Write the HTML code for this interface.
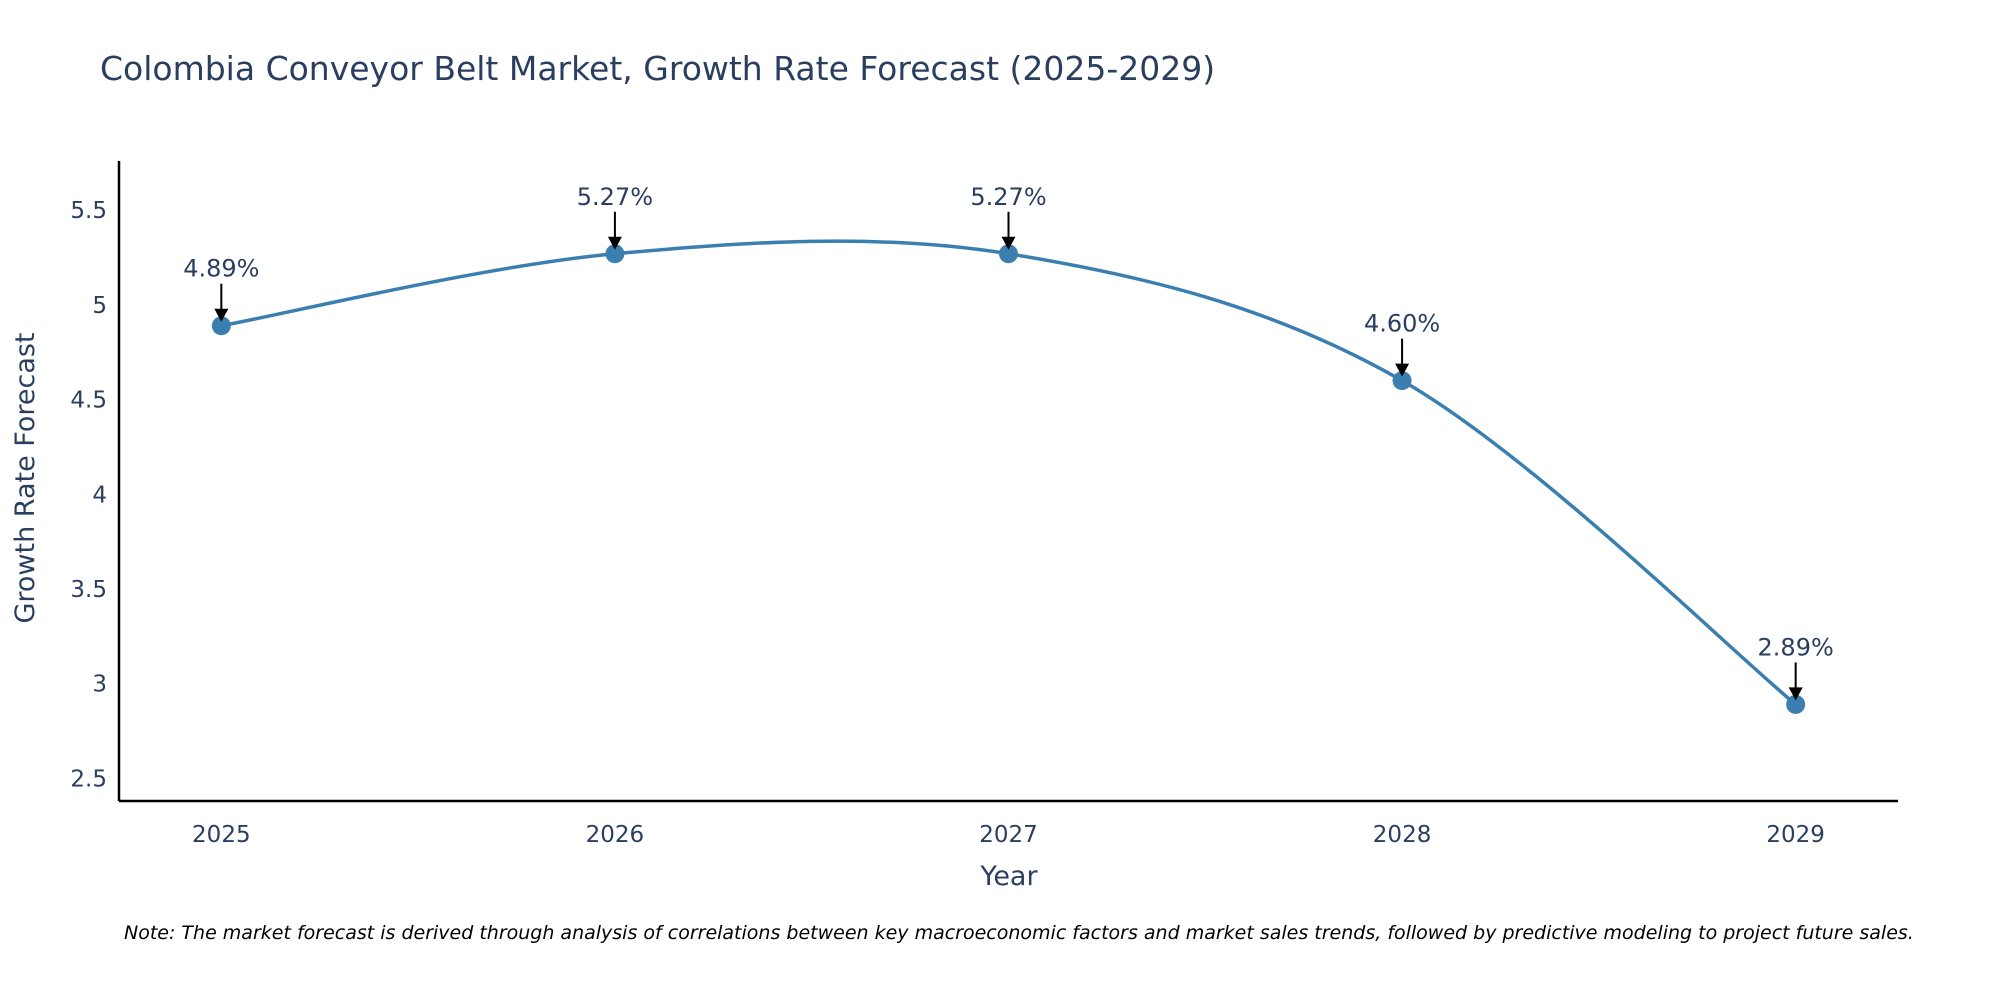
<!DOCTYPE html>
<html><head><meta charset="utf-8"><style>
body{margin:0;background:#fff;}
svg text{font-family:"DejaVu Sans","Liberation Sans",sans-serif;fill:#2a3f5f;}
</style></head><body>
<svg id="chart" width="2000" height="1000" viewBox="0 0 2000 1000">
<rect width="2000" height="1000" fill="#fff"/>
<text x="100" y="80" font-size="33">Colombia Conveyor Belt Market, Growth Rate Forecast (2025-2029)</text>
<g id="axes"></g>
<g id="series"></g>
<g id="annots"></g>
<text x="1009" y="885" font-size="27" text-anchor="middle">Year</text>
<text transform="translate(34,478) rotate(-90)" font-size="27" text-anchor="middle">Growth Rate Forecast</text>
<text x="124" y="939" font-size="19" font-style="italic" style="fill:#000">Note: The market forecast is derived through analysis of correlations between key macroeconomic factors and market sales trends, followed by predictive modeling to project future sales.</text>
</svg>
<script>
const years = [2025, 2026, 2027, 2028, 2029];
const values = [4.89, 5.27, 5.27, 4.60, 2.89];
const valueLabels = ["4.89%", "5.27%", "5.27%", "4.60%", "2.89%"];
const yTicks = [2.5, 3, 3.5, 4, 4.5, 5, 5.5];
const yTickLabels = ["2.5", "3", "3.5", "4", "4.5", "5", "5.5"];

const NS = "http://www.w3.org/2000/svg";
const L = 119, R = 1898, T = 161, B = 801;
const xMin = 2024.74, xMax = 2029.26, yMin = 2.38, yMax = 5.76;
const xs = v => L + (v - xMin) / (xMax - xMin) * (R - L);
const ys = v => B - (v - yMin) / (yMax - yMin) * (B - T);
function mk(tag, attrs, parent) {
  const e = document.createElementNS(NS, tag);
  for (const k in attrs) e.setAttribute(k, attrs[k]);
  parent.appendChild(e);
  return e;
}
const axes = document.getElementById('axes');
const series = document.getElementById('series');
const annots = document.getElementById('annots');

const yl = mk('line', {x1: L, y1: T, x2: L, y2: B, stroke: '#000', 'stroke-width': 2.5}, axes);


const xl = mk('line', {x1: L, y1: B, x2: R, y2: B, stroke: '#000', 'stroke-width': 2.5}, axes);



yTicks.forEach((t, i) => {
  const tx = mk('text', {x: L - 12, y: ys(t) + 8, 'font-size': 23, 'text-anchor': 'end'}, axes);
  tx.textContent = yTickLabels[i];
  
  
});
years.forEach(y => {
  const tx = mk('text', {x: xs(y), y: B + 41, 'font-size': 23, 'text-anchor': 'middle'}, axes);
  tx.textContent = String(y);
  
  
});

const pts = years.map((y, i) => [xs(y), ys(values[i])]);
let d = `M${pts[0][0]},${pts[0][1]}`;
const tension = 0.5;
for (let i = 0; i < pts.length - 1; i++) {
  const p0 = pts[Math.max(0, i - 1)], p1 = pts[i], p2 = pts[i + 1], p3 = pts[Math.min(pts.length - 1, i + 2)];
  const c1 = [p1[0] + (p2[0] - p0[0]) * tension / 3, p1[1] + (p2[1] - p0[1]) * tension / 3];
  const c2 = [p2[0] - (p3[0] - p1[0]) * tension / 3, p2[1] - (p3[1] - p1[1]) * tension / 3];
  d += ` C${c1[0]},${c1[1]} ${c2[0]},${c2[1]} ${p2[0]},${p2[1]}`;
}
const line = mk('path', {d: d, fill: 'none', stroke: '#3a7fb0', 'stroke-width': 3.5}, series);



pts.forEach((p, i) => {
  const c = mk('circle', {cx: p[0], cy: p[1], r: 9.5, fill: '#3a7fb0'}, series);
  
  
  const a = mk('line', {x1: p[0], y1: p[1] - 42, x2: p[0], y2: p[1] - 14, stroke: '#000', 'stroke-width': 2}, annots);
  
  
  const h = mk('polygon', {points: `${p[0]-7},${p[1]-17} ${p[0]+7},${p[1]-17} ${p[0]},${p[1]-4}`, fill: '#000'}, annots);
  
  
  const t = mk('text', {x: p[0], y: p[1] - 49, 'font-size': 24, 'text-anchor': 'middle'}, annots);
  t.textContent = valueLabels[i];
  
  
});
</script>
</body></html>
